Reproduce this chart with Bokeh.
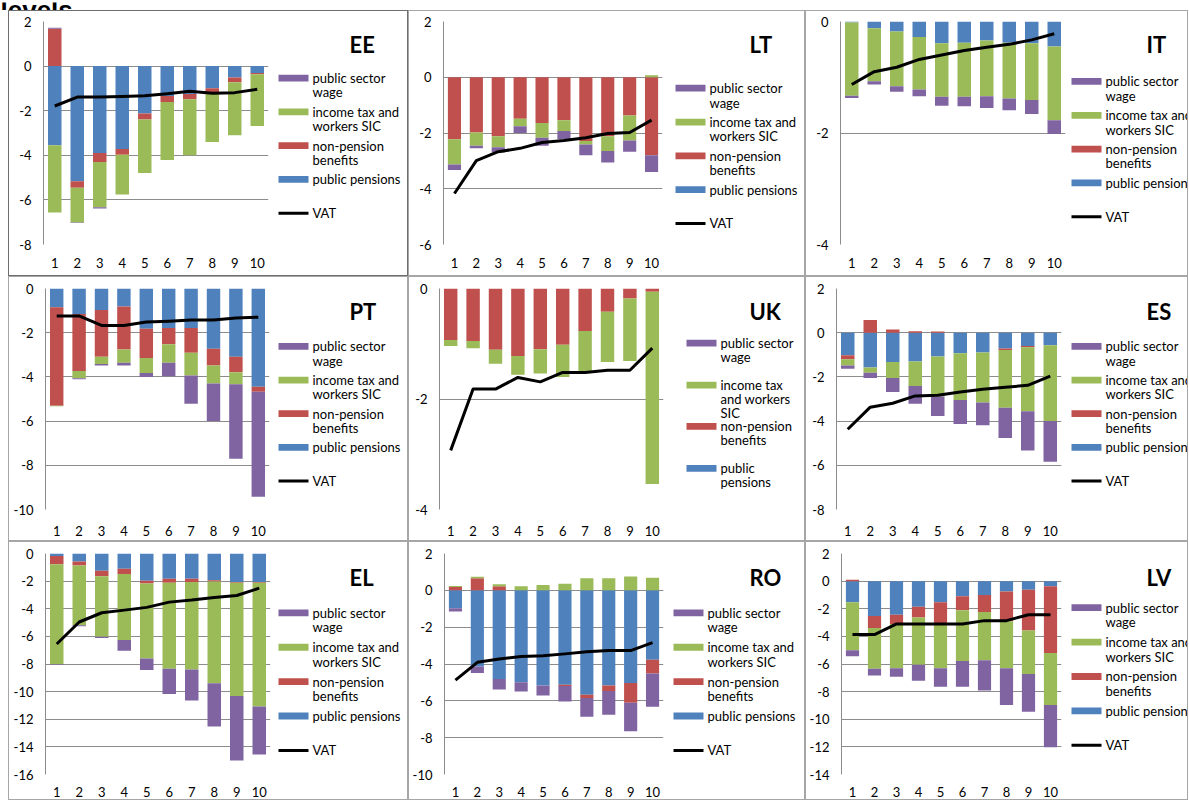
from bokeh.plotting import figure
from bokeh.layouts import row, column
from bokeh.models import Range1d, FixedTicker, ColumnDataSource, Spacer
from bokeh.embed import file_html
from bokeh.resources import INLINE
from bokeh.core.properties import value

# ---------------- data ----------------
deciles = [1, 2, 3, 4, 5, 6, 7, 8, 9, 10]
decile_labels = ["1", "2", "3", "4", "5", "6", "7", "8", "9", "10"]
series_names = ["public sector wage", "income tax and workers SIC",
                "non-pension benefits", "public pensions", "VAT"]

EE_pensions = [-3.55, -5.16, -3.90, -3.72, -2.13, -1.34, -1.25, -0.99, -0.51, -0.31]
EE_benefits = [1.67, -0.30, -0.40, -0.25, -0.26, -0.27, -0.24, -0.20, -0.21, -0.06]
EE_tax = [-3.02, -1.55, -2.03, -1.79, -2.40, -2.60, -2.51, -2.21, -2.38, -2.32]
EE_wage = [0.05, -0.03, -0.06, 0.0, 0.0, 0.0, 0.0, 0.0, 0.0, 0.0]
EE_vat = [-1.79, -1.39, -1.39, -1.36, -1.33, -1.24, -1.13, -1.22, -1.19, -1.04]
EE_ylim = (-8, 2)

LT_pensions = [0, 0, 0, 0, 0, 0, 0, 0, 0, 0]
LT_benefits = [-2.22, -1.98, -2.12, -1.49, -1.64, -1.54, -2.29, -2.12, -1.37, -2.80]
LT_tax = [-0.91, -0.48, -0.39, -0.27, -0.53, -0.39, -0.12, -0.53, -0.90, 0.07]
LT_wage = [-0.20, -0.09, -0.19, -0.24, -0.29, -0.29, -0.39, -0.41, -0.40, -0.60]
LT_vat = [-4.17, -2.99, -2.67, -2.55, -2.34, -2.27, -2.17, -2.02, -1.98, -1.54]
LT_ylim = (-6, 2)

IT_pensions = [-0.02, -0.12, -0.18, -0.28, -0.39, -0.38, -0.34, -0.38, -0.39, -0.45]
IT_benefits = [0, 0, 0, 0, 0, 0, 0, 0, 0, 0]
IT_tax = [-1.31, -0.95, -0.98, -0.94, -0.96, -0.97, -1.00, -1.00, -1.02, -1.32]
IT_wage = [-0.04, -0.06, -0.10, -0.12, -0.16, -0.17, -0.21, -0.21, -0.25, -0.25]
IT_vat = [-1.13, -0.90, -0.82, -0.68, -0.60, -0.52, -0.46, -0.41, -0.33, -0.22]
IT_ylim = (-4, 0)

PT_pensions = [-0.85, -1.15, -0.97, -0.82, -1.82, -1.79, -1.79, -2.73, -3.09, -4.45]
PT_benefits = [-4.45, -2.58, -2.12, -1.94, -1.33, -0.73, -1.12, -0.75, -0.70, -0.22]
PT_tax = [-0.03, -0.33, -0.33, -0.60, -0.67, -0.84, -1.03, -0.82, -0.54, 0.0]
PT_wage = [0.0, -0.05, -0.06, -0.12, -0.18, -0.61, -1.27, -1.70, -3.37, -4.75]
PT_vat = [-1.24, -1.24, -1.67, -1.67, -1.52, -1.48, -1.42, -1.42, -1.33, -1.30]
PT_ylim = (-10, 0)

UK_pensions = [0, 0, 0, 0, 0, 0, 0, 0, 0, 0]
UK_benefits = [-0.93, -0.95, -1.11, -1.22, -1.10, -1.02, -0.77, -0.42, -0.18, -0.06]
UK_tax = [-0.11, -0.13, -0.25, -0.34, -0.44, -0.58, -0.75, -0.91, -1.13, -3.48]
UK_wage = [0.0, 0.01, 0.0, 0.0, 0.0, 0.0, 0.0, 0.0, 0.01, 0.01]
UK_vat = [-2.93, -1.82, -1.82, -1.61, -1.69, -1.52, -1.52, -1.48, -1.48, -1.08]
UK_ylim = (-4, 0)

ES_pensions = [-1.02, -1.57, -1.33, -1.30, -1.08, -0.93, -0.90, -0.72, -0.60, -0.57]
ES_benefits = [-0.18, 0.57, 0.15, 0.06, 0.05, 0.0, 0.0, -0.06, -0.06, 0.0]
ES_tax = [-0.28, -0.24, -0.72, -1.11, -1.81, -2.11, -2.26, -2.62, -2.89, -3.43]
ES_wage = [-0.15, -0.24, -0.63, -0.81, -0.88, -1.09, -1.03, -1.36, -1.78, -1.84]
ES_vat = [-4.37, -3.37, -3.19, -2.86, -2.83, -2.68, -2.56, -2.47, -2.38, -1.96]
ES_ylim = (-8, 2)

EL_pensions = [-0.19, -0.58, -1.25, -1.11, -1.98, -1.83, -1.83, -1.93, -2.07, -2.07]
EL_benefits = [-0.58, -0.29, -0.39, -0.38, -0.19, -0.29, -0.24, -0.09, -0.05, -0.05]
EL_tax = [-7.23, -4.33, -4.38, -4.78, -5.44, -6.22, -6.32, -7.38, -8.19, -8.96]
EL_wage = [-0.03, -0.07, -0.10, -0.77, -0.82, -1.83, -2.26, -3.13, -4.68, -3.47]
EL_vat = [-6.55, -4.96, -4.29, -4.10, -3.90, -3.52, -3.37, -3.18, -3.04, -2.51]
EL_ylim = (-16, 0)

RO_pensions = [-0.97, -4.13, -4.81, -4.99, -5.17, -5.13, -5.67, -5.17, -5.03, -3.77]
RO_benefits = [0.18, 0.65, 0.22, 0.0, 0.0, -0.07, -0.18, -0.29, -1.07, -0.75]
RO_tax = [0.05, 0.09, 0.11, 0.22, 0.29, 0.36, 0.65, 0.65, 0.75, 0.68]
RO_wage = [-0.18, -0.36, -0.58, -0.50, -0.54, -0.83, -1.01, -1.29, -1.55, -1.80]
RO_vat = [-4.88, -3.91, -3.73, -3.59, -3.55, -3.45, -3.34, -3.27, -3.27, -2.84]
RO_ylim = (-10, 2)

LV_pensions = [-1.53, -2.53, -2.43, -1.86, -1.53, -1.10, -1.00, -0.76, -0.62, -0.38]
LV_benefits = [0.10, -0.86, -0.67, -0.77, -1.52, -1.00, -1.24, -2.15, -2.96, -4.82]
LV_tax = [-3.48, -2.96, -3.20, -3.43, -3.25, -3.68, -3.49, -3.39, -3.15, -3.77]
LV_wage = [-0.43, -0.48, -0.62, -1.15, -1.34, -1.86, -2.19, -2.67, -2.72, -3.06]
LV_vat = [-3.87, -3.87, -3.10, -3.10, -3.10, -3.10, -2.86, -2.86, -2.43, -2.43]
LV_ylim = (-14, 2)

heading_fragment = "levels"

# legend label line-breaking as in the original
legend_lines_default = [["public sector", "wage"], ["income tax and", "workers SIC"],
                        ["non-pension", "benefits"], ["public pensions"], ["VAT"]]
legend_lines_uk = [["public sector", "wage"], ["income tax", "and workers", "SIC"],
                   ["non-pension", "benefits"], ["public", "pensions"]]

# ---------------- style / layout ----------------
C_WAGE = "#8064A2"
C_TAX = "#9BBB59"
C_BEN = "#C0504D"
C_PEN = "#4F81BD"
GRID = "#8c8c8c"
FONT = "Lato"
col_widths = [400, 397, 383]
row_heights = [266, 265, 259]
row_top_border = [10, 11, 11]
row_bottom_border = [31, 31, 25]
row_x_standoff = [13, 16, 12]
PLOT_W = 262


def stack(series_list):
    n = len(series_list[0])
    pos = [0.0] * n
    neg = [0.0] * n
    out = []
    for s in series_list:
        b, t = [], []
        for i, v in enumerate(s):
            if v >= 0:
                b.append(pos[i]); t.append(pos[i] + v); pos[i] += v
            else:
                t.append(neg[i]); b.append(neg[i] + v); neg[i] += v
        out.append((b, t))
    return out


def make_panel(name, pensions, benefits, tax, wage, vat, ylim, W, H, ri,
               mbl, mbr, leg_x, leg_y, legend_lines, border, item_ys=None,
               line_gap=17):
    iw, ih = W - 2, H - 2
    lo, hi = ylim
    yt = list(range(lo, hi + 1, 2))
    p = figure(width=PLOT_W, height=ih, x_range=Range1d(0.5, 10.5),
               y_range=Range1d(lo, hi), output_backend="svg",
               toolbar_location=None, min_border_left=mbl, min_border_right=mbr,
               min_border_top=row_top_border[ri],
               min_border_bottom=row_bottom_border[ri])
    p.outline_line_color = None
    p.background_fill_color = "white"
    p.border_fill_color = "white"
    p.xgrid.visible = False
    p.ygrid.ticker = FixedTicker(ticks=yt)
    p.ygrid.grid_line_color = GRID
    p.ygrid.grid_line_width = 1

    p.yaxis.ticker = FixedTicker(ticks=yt)
    p.yaxis.major_label_overrides = {t: str(t) for t in yt}
    p.yaxis.axis_line_color = GRID
    p.yaxis.major_tick_line_color = None
    p.yaxis.major_tick_out = 0
    p.yaxis.major_tick_in = 0
    p.yaxis.minor_tick_line_color = None
    p.yaxis.major_label_standoff = 12
    p.yaxis.major_label_text_font = FONT
    p.yaxis.major_label_text_font_size = "13px"
    p.yaxis.major_label_text_color = "black"

    p.xaxis.ticker = FixedTicker(ticks=deciles)
    p.xaxis.major_label_overrides = {d: l for d, l in zip(deciles, decile_labels)}
    p.xaxis.axis_line_color = None
    p.xaxis.major_tick_line_color = None
    p.xaxis.major_tick_out = 0
    p.xaxis.major_tick_in = 0
    p.xaxis.minor_tick_line_color = None
    p.xaxis.major_label_standoff = row_x_standoff[ri]
    p.xaxis.major_label_text_font = FONT
    p.xaxis.major_label_text_font_size = "13px"
    p.xaxis.major_label_text_color = "black"

    stacked = stack([pensions, benefits, tax, wage])
    for (b, t), c in zip(stacked, [C_PEN, C_BEN, C_TAX, C_WAGE]):
        src = ColumnDataSource(dict(x=deciles, bottom=b, top=t))
        p.vbar(x="x", width=0.6, bottom="bottom", top="top", source=src,
               fill_color=c, line_color=None)
    p.line(deciles, vat, line_color="black", line_width=3, line_join="round")

    # legend column (a small canvas whose units are pixels, y downwards)
    LW = iw - PLOT_W
    lf = figure(width=LW, height=ih, x_range=Range1d(0, LW), y_range=Range1d(ih, 0),
                output_backend="svg", toolbar_location=None, min_border=0,
                x_axis_location=None, y_axis_location=None)
    lf.grid.visible = False
    lf.outline_line_color = None
    lf.background_fill_color = "white"
    lf.border_fill_color = "white"
    colors = [C_WAGE, C_TAX, C_BEN, C_PEN]
    if item_ys is None:
        item_ys = [leg_y + 40 * k for k in range(len(legend_lines))]
    tx, ty, tt = [], [], []
    for k, lines in enumerate(legend_lines):
        y = item_ys[k]
        if k < 4:
            lf.rect(x=[leg_x + 15], y=[y], width=30, height=8,
                    fill_color=colors[k], line_color=None)
        else:
            lf.segment(x0=[leg_x], x1=[leg_x + 30], y0=[y], y1=[y],
                       line_color="black", line_width=3)
        for j, ln in enumerate(lines):
            tx.append(leg_x + 34); ty.append(y + line_gap * j); tt.append(ln)
    lf.text(x=tx, y=ty, text=tt, text_baseline="middle", text_align="left",
            text_font=value(FONT), text_font_size="13px", text_color="black")
    lf.text(x=[78], y=[28 if ri == 2 else 27], text=[name],
            text_baseline="middle", text_align="left", text_font=value(FONT),
            text_font_size="22px", text_font_style="bold", text_color="black")
    return row(p, lf, styles={"border": f"1px solid {border}"})


# name, data..., min_border_left, min_border_right, legend x, legend y, lines, item ys
panels = [
    ("EE", EE_pensions, EE_benefits, EE_tax, EE_wage, EE_vat, EE_ylim, 34, 3, 7, 67, legend_lines_default, None),
    ("LT", LT_pensions, LT_benefits, LT_tax, LT_wage, LT_vat, LT_ylim, 34, 9, 4, 79, legend_lines_default, None),
    ("IT", IT_pensions, IT_benefits, IT_tax, IT_wage, IT_vat, IT_ylim, 34, 3, 3, 71, legend_lines_default, None),
    ("PT", PT_pensions, PT_benefits, PT_tax, PT_wage, PT_vat, PT_ylim, 36, 2, 7, 69, legend_lines_default, None),
    ("UK", UK_pensions, UK_benefits, UK_tax, UK_wage, UK_vat, UK_ylim, 30, 8, 15, 65, legend_lines_uk, [65, 115, 164, 214]),
    ("ES", ES_pensions, ES_benefits, ES_tax, ES_wage, ES_vat, ES_ylim, 30, 7, 3, 69, legend_lines_default, None),
    ("EL", EL_pensions, EL_benefits, EL_tax, EL_wage, EL_vat, EL_ylim, 36, 1, 7, 69, legend_lines_default, None),
    ("RO", RO_pensions, RO_benefits, RO_tax, RO_wage, RO_vat, RO_ylim, 32, 8, 2, 69, legend_lines_default, None),
    ("LV", LV_pensions, LV_benefits, LV_tax, LV_wage, LV_vat, LV_ylim, 32, 7, 3, 63, legend_lines_default, None),
]

rows = []
for ri in range(3):
    cells = []
    for ci in range(3):
        (name, pen, ben, tax, wage, vat, ylim, mbl, mbr, lx, ly, lines, iys) = panels[ri * 3 + ci]
        border = "#6e6e6e" if name == "EE" else "#a6a6a6"
        cells.append(make_panel(name, pen, ben, tax, wage, vat, ylim,
                                col_widths[ci], row_heights[ri], ri, mbl, mbr, lx, ly,
                                lines, border, item_ys=iys,
                                line_gap=(16.5 if name == "UK" else 17)))
    rows.append(row(*cells))

# heading fragment cut off at the top of the page
TOTAL_W = 8 + sum(col_widths)
strip = figure(width=TOTAL_W, height=10, x_range=Range1d(0, TOTAL_W), y_range=Range1d(10, 0),
               output_backend="svg", toolbar_location=None, min_border=0,
               x_axis_location=None, y_axis_location=None)
strip.grid.visible = False
strip.outline_line_color = None
strip.text(x=[0], y=[7], text=[heading_fragment], text_baseline="alphabetic",
           text_align="left", text_font=value("Liberation Sans"), text_font_size="26px",
           text_font_style="bold", text_color="black")

layout = column(strip, row(Spacer(width=8, height=10), column(*rows)))
open("out.html", "w").write(file_html(layout, INLINE))
